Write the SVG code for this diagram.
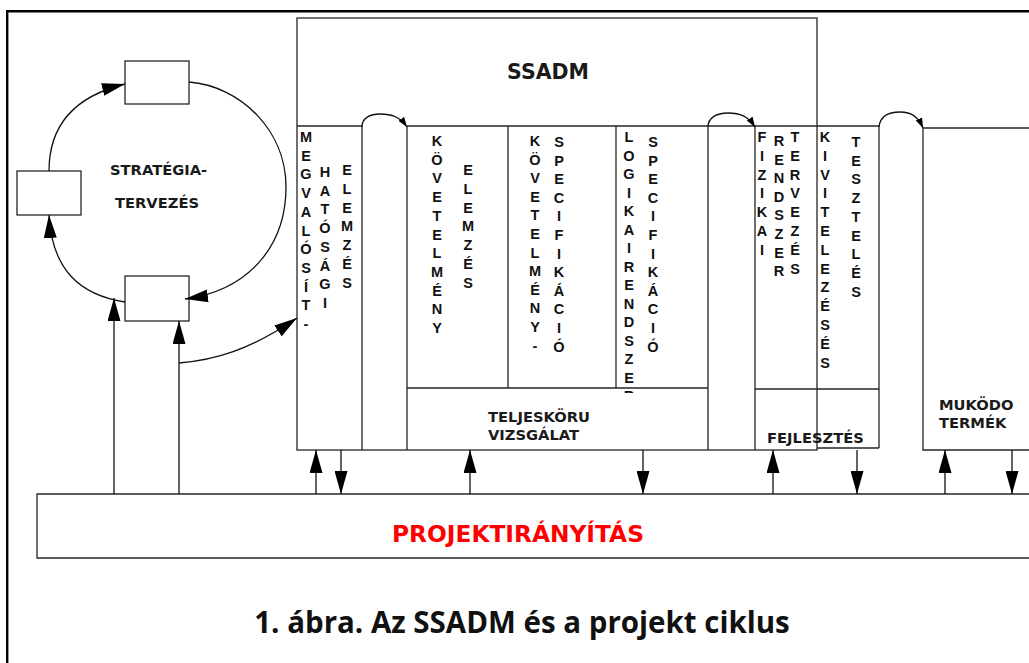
<svg xmlns="http://www.w3.org/2000/svg" width="1029" height="663" viewBox="0 0 1029 663">
<defs>
<style>
.ln{fill:none;stroke:#262626;stroke-width:1.3}
.bx{fill:#fff;stroke:#262626;stroke-width:1.3}
.lbl{font-family:"DejaVu Sans",sans-serif;font-weight:bold;font-size:14.7px;fill:#1a1a1a}
.v{font-family:"Liberation Sans",Arial,sans-serif;font-weight:bold;font-size:14.5px;fill:#111;text-anchor:middle}
.cn{fill:none;stroke:#111;stroke-width:1.3}
</style>
<marker id="big" viewBox="0 0 23 13" refX="23" refY="6.5" markerWidth="23" markerHeight="13" markerUnits="userSpaceOnUse" orient="auto"><path d="M0,0L23,6.5L0,13z" fill="#000"/></marker>
<marker id="sm" viewBox="0 0 10 7" refX="10" refY="3.5" markerWidth="10" markerHeight="7" markerUnits="userSpaceOnUse" orient="auto"><path d="M0,0L10,3.5L0,7z" fill="#000"/></marker>
<clipPath id="c4"><rect x="610" y="120" width="40" height="273"/></clipPath>
</defs>
<rect width="1029" height="663" fill="#fff"/>
<g id="frame"><path d="M1029,11.2H7.2V663" fill="none" stroke="#000" stroke-width="2.4"/></g>

<g id="strategy">
<rect class="bx" x="125" y="61" width="64" height="43"/>
<rect class="bx" x="17" y="171" width="64" height="44"/>
<rect class="bx" x="125" y="276" width="64" height="45"/>
<text class="lbl" x="110" y="175">STRATÉGIA-</text>
<text class="lbl" x="115" y="208">TERVEZÉS</text>
</g>

<g id="ssadm">
<rect class="bx" x="297" y="18" width="520" height="432"/>
<text x="548" y="79" font-family="DejaVu Sans, sans-serif" font-weight="bold" font-size="20.5" text-anchor="middle" fill="#1a1a1a">SSADM</text>
<path class="ln" d="M297,126H362M407,126H879M407,388H708M755,389H879M362,126V450M407,126V450M508,126V388M616,126V388M708,126V450M755,126V450M879,126V448M817,448H879"/>
</g>

<g id="col1">
<text class="v" x="306" y="142">M<tspan x="306" dy="18.7">E</tspan><tspan x="306" dy="18.7">G</tspan><tspan x="306" dy="18.7">V</tspan><tspan x="306" dy="18.7">A</tspan><tspan x="306" dy="18.7">L</tspan><tspan x="306" dy="18.7">Ó</tspan><tspan x="306" dy="18.7">S</tspan><tspan x="306" dy="18.7">Í</tspan><tspan x="306" dy="18.7">T</tspan><tspan x="306" dy="18.7">-</tspan></text>
<text class="v" x="325" y="177">H<tspan x="325" dy="18.7">A</tspan><tspan x="325" dy="18.7">T</tspan><tspan x="325" dy="18.7">Ó</tspan><tspan x="325" dy="18.7">S</tspan><tspan x="325" dy="18.7">Á</tspan><tspan x="325" dy="18.7">G</tspan><tspan x="325" dy="18.7">I</tspan></text>
<text class="v" x="347" y="175">E<tspan x="347" dy="18.8">L</tspan><tspan x="347" dy="18.8">E</tspan><tspan x="347" dy="18.8">M</tspan><tspan x="347" dy="18.8">Z</tspan><tspan x="347" dy="18.8">É</tspan><tspan x="347" dy="18.8">S</tspan></text>
</g>

<g id="col2">
<text class="v" x="437" y="146">K<tspan x="437" dy="18.7">Ö</tspan><tspan x="437" dy="18.7">V</tspan><tspan x="437" dy="18.7">E</tspan><tspan x="437" dy="18.7">T</tspan><tspan x="437" dy="18.7">E</tspan><tspan x="437" dy="18.7">L</tspan><tspan x="437" dy="18.7">M</tspan><tspan x="437" dy="18.7">É</tspan><tspan x="437" dy="18.7">N</tspan><tspan x="437" dy="18.7">Y</tspan></text>
<text class="v" x="468" y="175">E<tspan x="468" dy="18.8">L</tspan><tspan x="468" dy="18.8">E</tspan><tspan x="468" dy="18.8">M</tspan><tspan x="468" dy="18.8">Z</tspan><tspan x="468" dy="18.8">É</tspan><tspan x="468" dy="18.8">S</tspan></text>
</g>

<g id="col3">
<text class="v" x="535" y="146">K<tspan x="535" dy="18.6">Ö</tspan><tspan x="535" dy="18.6">V</tspan><tspan x="535" dy="18.6">E</tspan><tspan x="535" dy="18.6">T</tspan><tspan x="535" dy="18.6">E</tspan><tspan x="535" dy="18.6">L</tspan><tspan x="535" dy="18.6">M</tspan><tspan x="535" dy="18.6">É</tspan><tspan x="535" dy="18.6">N</tspan><tspan x="535" dy="18.6">Y</tspan><tspan x="535" dy="18.6">-</tspan></text>
<text class="v" x="559" y="147">S<tspan x="559" dy="18.6">P</tspan><tspan x="559" dy="18.6">E</tspan><tspan x="559" dy="18.6">C</tspan><tspan x="559" dy="18.6">I</tspan><tspan x="559" dy="18.6">F</tspan><tspan x="559" dy="18.6">I</tspan><tspan x="559" dy="18.6">K</tspan><tspan x="559" dy="18.6">Á</tspan><tspan x="559" dy="18.6">C</tspan><tspan x="559" dy="18.6">I</tspan><tspan x="559" dy="18.6">Ó</tspan></text>
</g>

<g id="col4">
<text class="v" x="629" y="142" clip-path="url(#c4)">L<tspan x="629" dy="18.5">O</tspan><tspan x="629" dy="18.5">G</tspan><tspan x="629" dy="18.5">I</tspan><tspan x="629" dy="18.5">K</tspan><tspan x="629" dy="18.5">A</tspan><tspan x="629" dy="18.5">I</tspan><tspan x="629" dy="18.5">R</tspan><tspan x="629" dy="18.5">E</tspan><tspan x="629" dy="18.5">N</tspan><tspan x="629" dy="18.5">D</tspan><tspan x="629" dy="18.5">S</tspan><tspan x="629" dy="18.5">Z</tspan><tspan x="629" dy="18.5">E</tspan><tspan x="629" dy="18.5">R</tspan></text>
<text class="v" x="653" y="147">S<tspan x="653" dy="18.6">P</tspan><tspan x="653" dy="18.6">E</tspan><tspan x="653" dy="18.6">C</tspan><tspan x="653" dy="18.6">I</tspan><tspan x="653" dy="18.6">F</tspan><tspan x="653" dy="18.6">I</tspan><tspan x="653" dy="18.6">K</tspan><tspan x="653" dy="18.6">Á</tspan><tspan x="653" dy="18.6">C</tspan><tspan x="653" dy="18.6">I</tspan><tspan x="653" dy="18.6">Ó</tspan></text>
</g>

<g id="teljeskoru">
<text class="lbl" x="488" y="422">TELJESKÖRU</text>
<text class="lbl" x="488" y="440">VIZSGÁLAT</text>
</g>

<g id="col5">
<text class="v" x="762" y="142">F<tspan x="762" dy="18.8">I</tspan><tspan x="762" dy="18.8">Z</tspan><tspan x="762" dy="18.8">I</tspan><tspan x="762" dy="18.8">K</tspan><tspan x="762" dy="18.8">A</tspan><tspan x="762" dy="18.8">I</tspan></text>
<text class="v" x="779" y="146">R<tspan x="779" dy="18.6">E</tspan><tspan x="779" dy="18.6">N</tspan><tspan x="779" dy="18.6">D</tspan><tspan x="779" dy="18.6">S</tspan><tspan x="779" dy="18.6">Z</tspan><tspan x="779" dy="18.6">E</tspan><tspan x="779" dy="18.6">R</tspan></text>
<text class="v" x="795" y="142">T<tspan x="795" dy="18.8">E</tspan><tspan x="795" dy="18.8">R</tspan><tspan x="795" dy="18.8">V</tspan><tspan x="795" dy="18.8">E</tspan><tspan x="795" dy="18.8">Z</tspan><tspan x="795" dy="18.8">É</tspan><tspan x="795" dy="18.8">S</tspan></text>
</g>

<g id="col6">
<text class="v" x="825" y="142">K<tspan x="825" dy="18.8">I</tspan><tspan x="825" dy="18.8">V</tspan><tspan x="825" dy="18.8">I</tspan><tspan x="825" dy="18.8">T</tspan><tspan x="825" dy="18.8">E</tspan><tspan x="825" dy="18.8">L</tspan><tspan x="825" dy="18.8">E</tspan><tspan x="825" dy="18.8">Z</tspan><tspan x="825" dy="18.8">É</tspan><tspan x="825" dy="18.8">S</tspan><tspan x="825" dy="18.8">É</tspan><tspan x="825" dy="18.8">S</tspan></text>
<text class="v" x="856" y="147">T<tspan x="856" dy="18.7">E</tspan><tspan x="856" dy="18.7">S</tspan><tspan x="856" dy="18.7">Z</tspan><tspan x="856" dy="18.7">T</tspan><tspan x="856" dy="18.7">E</tspan><tspan x="856" dy="18.7">L</tspan><tspan x="856" dy="18.7">É</tspan><tspan x="856" dy="18.7">S</tspan></text>
</g>

<g id="fejlesztes">
<text class="lbl" x="767" y="443">FEJLESZTÉS</text>
</g>

<g id="mukodo">
<path class="ln" d="M1029,128H923V450H1029"/>
<text class="lbl" x="939" y="410">MUKÖDO</text>
<text class="lbl" x="939" y="428">TERMÉK</text>
</g>

<g id="projekt">
<path class="ln" d="M1029,494H37V558H1029"/>
<text x="392" y="542" font-family="DejaVu Sans, sans-serif" font-weight="bold" font-size="23.3" fill="#ff0000">PROJEKTIRÁNYÍTÁS</text>
</g>

<g id="connectors">
<path class="cn" d="M49,171C49,120 80,95 125,84" marker-end="url(#big)"/>
<path class="cn" d="M189,82C240,86 286,130 286,187C286,245 250,290 185,299" marker-end="url(#big)"/>
<path class="cn" d="M125,302C80,295 52,270 49,215" marker-end="url(#big)"/>
<path class="cn" d="M114,494V298" marker-end="url(#big)"/>
<path class="cn" d="M179,494V321" marker-end="url(#big)"/>
<path class="cn" d="M179,363C215,360 250,350 297,318" marker-end="url(#big)"/>
<path class="cn" d="M362,127C362,118 370,114 380,114C392,114 400,117 407,127" marker-end="url(#sm)"/>
<path class="cn" d="M708,127C708,118 716,113 728,113C740,113 748,116 755,127" marker-end="url(#sm)"/>
<path class="cn" d="M879,127C880,117 888,112 900,112C912,112 918,117 923,128" marker-end="url(#sm)"/>
<path class="cn" d="M316,494V450" marker-end="url(#big)"/>
<path class="cn" d="M341,450V494" marker-end="url(#big)"/>
<path class="cn" d="M470,494V450" marker-end="url(#big)"/>
<path class="cn" d="M643,450V494" marker-end="url(#big)"/>
<path class="cn" d="M773,494V450" marker-end="url(#big)"/>
<path class="cn" d="M857,450V494" marker-end="url(#big)"/>
<path class="cn" d="M945,494V450" marker-end="url(#big)"/>
<path class="cn" d="M1012,450V494" marker-end="url(#big)"/>
</g>

<g id="caption">
<text x="522" y="633" font-family="Open Sans, sans-serif" font-weight="bold" font-size="29.5" text-anchor="middle" fill="#111">1. ábra. Az SSADM és a projekt ciklus</text>
</g>
</svg>
